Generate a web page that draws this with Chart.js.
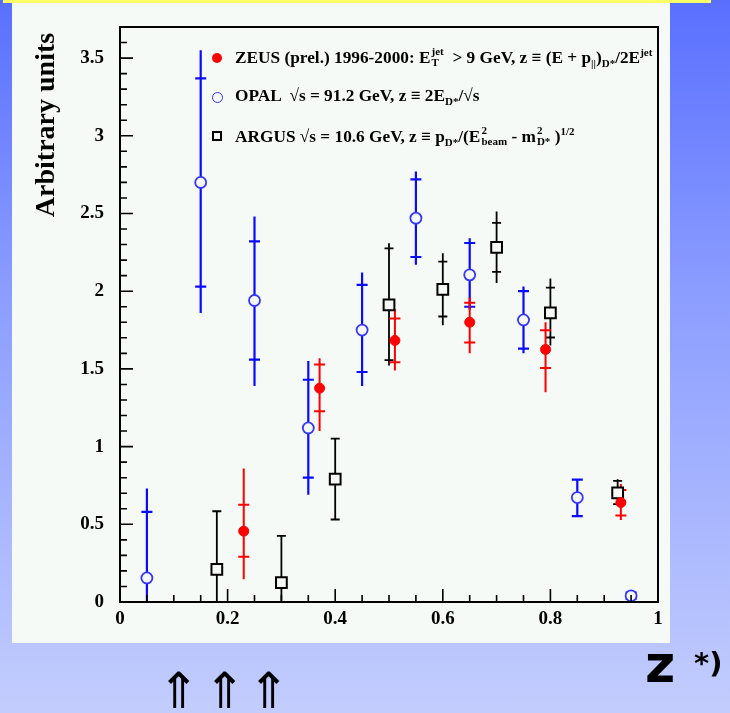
<!DOCTYPE html>
<html>
<head>
<meta charset="utf-8">
<script src="https://cdn.jsdelivr.net/npm/chart.js@4.4.0/dist/chart.umd.min.js"></script>
<style>
  html, body { margin: 0; padding: 0; }
  body {
    width: 730px; height: 713px; position: relative; overflow: hidden;
    background: linear-gradient(to bottom, #5a6fff 0%, #8a9cff 40%, #c3cdfd 100%);
  }
  #strip { position: absolute; left: 3px; top: 0; width: 708px; height: 3px; background: #ffff66; }
  #panel { position: absolute; left: 12px; top: 3px; width: 658px; height: 640px; background: #f6faf6; }
  #c { position: absolute; left: 0; top: 0; }
  .leg {
    position: absolute; left: 235px; white-space: nowrap;
    font: bold 17.3px "Liberation Serif", "DejaVu Serif", serif; color: #000;
  }
  .leg sub, .leg sup { font-size: 11px; line-height: 0; }
  .ss {
    display: inline-flex; flex-direction: column; font-size: 11px; line-height: 11px;
    vertical-align: 8px; margin-left: 1px;
  }
  .mk { position: absolute; box-sizing: border-box; }
  #zlab { position: absolute; left: 645px; top: 634px; font: bold 52px "DejaVu Sans", sans-serif; color: #000; }
  #star { position: absolute; left: 694px; top: 646px; font: bold 29px "DejaVu Sans", sans-serif; color: #000; }
  .arr { position: absolute; top: 662px; font: 50px "DejaVu Sans", sans-serif; color: #000; }
</style>
</head>
<body>
<div id="strip"></div>
<div id="panel"></div>
<canvas id="c" width="730" height="713"></canvas>

<div class="mk" style="left:212px;top:53px;width:10px;height:10px;border-radius:50%;background:#ff0000;"></div>
<div class="leg" style="top:46px">ZEUS (prel.) 1996-2000: E<span class="ss"><span>jet</span><span>T</span></span> &nbsp;&gt; 9 GeV, z ≡ (E + p<sub>||</sub>)<sub>D*</sub>/2E<sup>jet</sup></div>

<div class="mk" style="left:212px;top:92px;width:11px;height:11px;border-radius:50%;border:1.5px solid #3030ff;"></div>
<div class="leg" style="top:86px">OPAL &nbsp;√s = 91.2 GeV, z ≡ 2E<sub>D*</sub>/√s</div>

<div class="mk" style="left:212px;top:131px;width:10px;height:10px;border:2px solid #000;"></div>
<div class="leg" style="top:125px">ARGUS √s = 10.6 GeV, z ≡ p<sub>D*</sub>/(E<span class="ss"><span>2</span><span>beam</span></span> - m<span class="ss"><span>2</span><span>D*</span></span> )<sup>1/2</sup></div>

<div id="zlab">z</div>
<div id="star">*)</div>
<div class="arr" style="left:158px">⇑</div>
<div class="arr" style="left:204px">⇑</div>
<div class="arr" style="left:248px">⇑</div>

<script>
// axis ranges and tick labels
const xTicks = [0, 0.2, 0.4, 0.6, 0.8, 1];
const xTickLabels = ['0', '0.2', '0.4', '0.6', '0.8', '1'];
const yTicks = [0, 0.5, 1, 1.5, 2, 2.5, 3, 3.5];
const yTickLabels = ['0', '0.5', '1', '1.5', '2', '2.5', '3', '3.5'];

// ZEUS (prel.) 1996-2000
const zeusX = [0.23, 0.371, 0.511, 0.65, 0.791, 0.931];
const zeusY = [0.456, 1.376, 1.683, 1.80, 1.625, 0.640];
const zeusStatLo = [0.291, 1.227, 1.543, 1.67, 1.505, 0.557];
const zeusStatHi = [0.625, 1.529, 1.824, 1.925, 1.749, 0.72];
const zeusTotLo = [0.146, 1.10, 1.49, 1.60, 1.35, 0.527];
const zeusTotHi = [0.859, 1.569, 1.886, 1.96, 1.80, 0.76];

// OPAL sqrt(s) = 91.2 GeV
const opalX = [0.05, 0.15, 0.25, 0.35, 0.45, 0.55, 0.65, 0.75, 0.85, 0.95];
const opalY = [0.155, 2.70, 1.94, 1.12, 1.75, 2.47, 2.105, 1.815, 0.672, 0.04];
const opalStatLo = [0, 2.03, 1.56, 0.80, 1.48, 2.22, 1.90, 1.63, 0.552, 0.02];
const opalStatHi = [0.58, 3.37, 2.32, 1.43, 2.04, 2.72, 2.31, 2.00, 0.788, 0.06];
const opalTotLo = [0, 1.86, 1.39, 0.69, 1.39, 2.17, 1.88, 1.60, 0.552, 0.02];
const opalTotHi = [0.73, 3.55, 2.48, 1.55, 2.12, 2.77, 2.34, 2.03, 0.788, 0.06];

// ARGUS sqrt(s) = 10.6 GeV
const argusX = [0.18, 0.30, 0.40, 0.50, 0.60, 0.70, 0.80, 0.925];
const argusY = [0.21, 0.124, 0.79, 1.912, 2.012, 2.282, 1.861, 0.702];
const argusStatLo = [0, 0, 0.531, 1.556, 1.837, 2.124, 1.702, 0.63];
const argusStatHi = [0.584, 0.426, 1.051, 2.276, 2.19, 2.439, 2.023, 0.78];
const argusTotLo = [0, 0, 0.531, 1.522, 1.781, 2.053, 1.651, 0.62];
const argusTotHi = [0.584, 0.426, 1.051, 2.308, 2.244, 2.513, 2.081, 0.79];

const PANEL = '#f6faf6';
const SERIF = '"Liberation Serif", "DejaVu Serif", serif';

const toPoints = (xs, ys) => xs.map((x, i) => ({ x, y: ys[i] }));

const errorSets = [
  { x: argusX, sLo: argusStatLo, sHi: argusStatHi, tLo: argusTotLo, tHi: argusTotHi, color: '#000000', width: 1.8, half: 4.5 },
  { x: opalX, sLo: opalStatLo, sHi: opalStatHi, tLo: opalTotLo, tHi: opalTotHi, color: '#0a0aff', width: 2.2, half: 5.5 },
  { x: zeusX, sLo: zeusStatLo, sHi: zeusStatHi, tLo: zeusTotLo, tHi: zeusTotHi, color: '#ff0000', width: 2, half: 5.5 },
];

// vertical error lines with crossbars at the stat. error
const errorBars = {
  id: 'errorBars',
  beforeDatasetsDraw(chart) {
    const { ctx, chartArea, scales: { x, y } } = chart;
    ctx.save();
    ctx.beginPath();
    ctx.rect(chartArea.left, chartArea.top, chartArea.width, chartArea.height);
    ctx.clip();
    errorSets.forEach(s => {
      ctx.strokeStyle = s.color;
      ctx.lineWidth = s.width;
      s.x.forEach((xv, i) => {
        const px = x.getPixelForValue(xv);
        ctx.beginPath();
        ctx.moveTo(px, y.getPixelForValue(s.tLo[i]));
        ctx.lineTo(px, y.getPixelForValue(s.tHi[i]));
        [s.sLo[i], s.sHi[i]].forEach(v => {
          const py = y.getPixelForValue(v);
          ctx.moveTo(px - s.half, py);
          ctx.lineTo(px + s.half, py);
        });
        ctx.stroke();
      });
    });
    ctx.restore();
  }
};

// ROOT-like frame with inward ticks
const frame = {
  id: 'frame',
  afterDraw(chart) {
    const { ctx, chartArea: a, scales: { x, y } } = chart;
    ctx.save();
    ctx.strokeStyle = '#000';
    ctx.lineWidth = 2;
    ctx.strokeRect(a.left, a.top, a.right - a.left, a.bottom - a.top);

    ctx.lineWidth = 1.6;
    ctx.beginPath();
    for (let k = 1; k <= 19; k++) {
      const v = k * 0.05;
      const px = x.getPixelForValue(v);
      const len = (k % 4 === 0) ? 13 : 7;
      ctx.moveTo(px, a.bottom);
      ctx.lineTo(px, a.bottom - len);
    }
    for (let k = 1; k <= 36; k++) {
      const v = k * 0.1;
      const py = y.getPixelForValue(v);
      const len = (k % 5 === 0) ? 13 : 7;
      ctx.moveTo(a.left, py);
      ctx.lineTo(a.left + len, py);
    }
    ctx.stroke();

    ctx.fillStyle = '#000';
    ctx.font = 'bold 19px ' + SERIF;
    ctx.textAlign = 'center';
    ctx.textBaseline = 'middle';
    xTicks.forEach((v, i) => ctx.fillText(xTickLabels[i], x.getPixelForValue(v), a.bottom + 17));
    ctx.textAlign = 'right';
    yTicks.forEach((v, i) => ctx.fillText(yTickLabels[i], a.left - 16, y.getPixelForValue(v)));

    ctx.translate(47, 125);
    ctx.rotate(-Math.PI / 2);
    ctx.textAlign = 'center';
    ctx.font = 'bold 28px ' + SERIF;
    ctx.fillText('Arbitrary units', 0, 0);
    ctx.restore();
  }
};

new Chart(document.getElementById('c'), {
  type: 'scatter',
  data: {
    datasets: [
      { label: 'ZEUS', data: toPoints(zeusX, zeusY), pointStyle: 'circle', pointRadius: 5,
        backgroundColor: '#ff0000', borderColor: '#ff0000', borderWidth: 1 },
      { label: 'OPAL', data: toPoints(opalX, opalY), pointStyle: 'circle', pointRadius: 5.5,
        backgroundColor: PANEL, borderColor: '#3535ff', borderWidth: 1.8 },
      { label: 'ARGUS', data: toPoints(argusX, argusY), pointStyle: 'rect', pointRadius: 7.6,
        backgroundColor: PANEL, borderColor: '#000000', borderWidth: 2 },
    ],
  },
  options: {
    responsive: false,
    devicePixelRatio: 1,
    animation: false,
    events: [],
    layout: { padding: { left: 120, right: 72, top: 27, bottom: 111 } },
    plugins: { legend: { display: false }, tooltip: { enabled: false } },
    scales: {
      x: { type: 'linear', min: 0, max: 1, display: false },
      y: { type: 'linear', min: 0, max: 3.7, display: false },
    },
  },
  plugins: [errorBars, frame],
});
</script>
</body>
</html>
